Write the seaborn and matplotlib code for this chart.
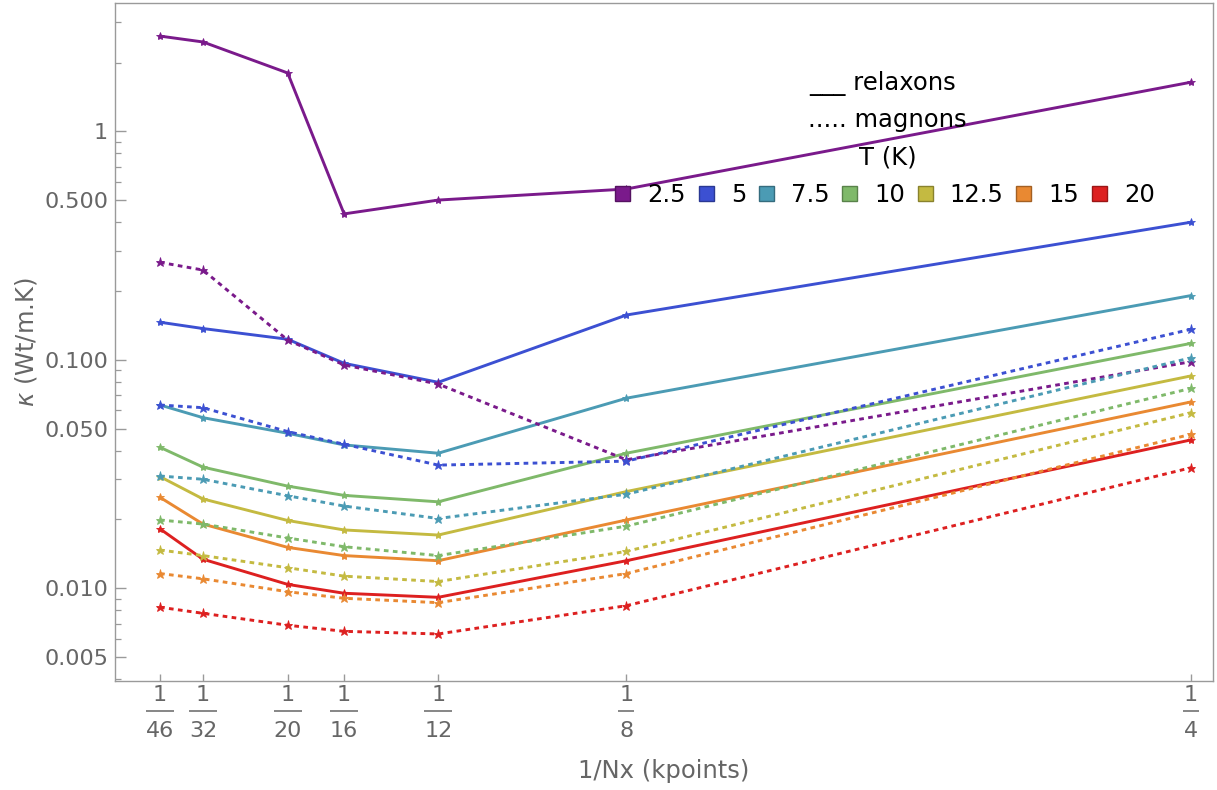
import numpy as np
import pandas as pd
import matplotlib
matplotlib.use("Agg")
import matplotlib.pyplot as plt
import matplotlib.transforms as mtransforms
from matplotlib.patches import Patch
from matplotlib.ticker import FixedLocator, FixedFormatter, LogLocator, NullFormatter
import seaborn as sns

# ---------------- data ----------------
nx = [46, 32, 20, 16, 12, 8, 4]
temperatures = ["2.5", "5", "7.5", "10", "12.5", "15", "20"]

relaxons_2p5 = [2.61, 2.46, 1.80, 0.435, 0.500, 0.559, 1.64]
relaxons_5 = [0.146, 0.137, 0.123, 0.0965, 0.0797, 0.157, 0.400]
relaxons_7p5 = [0.0634, 0.0558, 0.0477, 0.0424, 0.0390, 0.0679, 0.191]
relaxons_10 = [0.0414, 0.0339, 0.0280, 0.0255, 0.0239, 0.0390, 0.118]
relaxons_12p5 = [0.0308, 0.0246, 0.0198, 0.0180, 0.0171, 0.0265, 0.0850]
relaxons_15 = [0.0250, 0.0191, 0.0151, 0.0139, 0.0132, 0.0199, 0.0654]
relaxons_20 = [0.0182, 0.0134, 0.0104, 0.00951, 0.00913, 0.0132, 0.0446]

magnons_2p5 = [0.267, 0.247, 0.122, 0.0949, 0.0783, 0.0365, 0.0981]
magnons_5 = [0.0634, 0.0617, 0.0485, 0.0427, 0.0346, 0.0360, 0.136]
magnons_7p5 = [0.0310, 0.0300, 0.0254, 0.0229, 0.0202, 0.0258, 0.102]
magnons_10 = [0.0199, 0.0191, 0.0166, 0.0152, 0.0139, 0.0187, 0.0750]
magnons_12p5 = [0.0147, 0.0139, 0.0123, 0.0113, 0.0107, 0.0145, 0.0587]
magnons_15 = [0.0116, 0.0110, 0.00966, 0.00904, 0.00865, 0.0116, 0.0472]
magnons_20 = [0.00826, 0.00777, 0.00689, 0.00648, 0.00631, 0.00839, 0.0337]

y_major = [0.005, 0.01, 0.05, 0.1, 0.5, 1]
y_major_labels = ["0.005", "0.010", "0.050", "0.100", "0.500", "1"]

colors = ["#7a1a8b", "#3c50d2", "#4b9bb4", "#7fb96a", "#c4ba41", "#e98932", "#dd2020"]

relaxons = [relaxons_2p5, relaxons_5, relaxons_7p5, relaxons_10,
            relaxons_12p5, relaxons_15, relaxons_20]
magnons = [magnons_2p5, magnons_5, magnons_7p5, magnons_10,
           magnons_12p5, magnons_15, magnons_20]

rows = []
for T, rv, mv in zip(temperatures, relaxons, magnons):
    for n, r, m in zip(nx, rv, mv):
        rows.append({"x": 1.0 / n, "kappa": r, "T": T, "kind": "relaxons"})
        rows.append({"x": 1.0 / n, "kappa": m, "T": T, "kind": "magnons"})
df = pd.DataFrame(rows)
palette = dict(zip(temperatures, colors))

# ---------------- style ----------------
sns.set_theme(style="white")
plt.rcParams["font.family"] = ["DejaVu Sans"]
plt.rcParams["mathtext.fontset"] = "dejavusans"

W, H = 1217, 790
fig = plt.figure(figsize=(W / 100, H / 100), dpi=100)
ax_l, ax_r, ax_t, ax_b = 115, 1213, 3, 681
ax = fig.add_axes([ax_l / W, (H - ax_b) / H, (ax_r - ax_l) / W, (ax_b - ax_t) / H])

lw = 2.1
sns.lineplot(data=df[df.kind == "relaxons"], x="x", y="kappa", hue="T",
             hue_order=temperatures, palette=palette, marker="*",
             markersize=6, linewidth=lw, legend=False, ax=ax, estimator=None)
sns.lineplot(data=df[df.kind == "magnons"], x="x", y="kappa", hue="T",
             hue_order=temperatures, palette=palette, marker="*",
             markersize=6.5, linewidth=lw, legend=False, ax=ax, estimator=None,
             linestyle=(0, (1.6, 1.5)))
for ln in ax.lines:
    ln.set_markeredgecolor(ln.get_color())
    ln.set_markerfacecolor(ln.get_color())
    ln.set_markeredgewidth(0.6)
    ln.set_dash_capstyle("butt")

ax.set_yscale("log")
xmin, xmax = 0.011776, 0.25487
ax.set_xlim(xmin, xmax)
ax.set_ylim(0.003928, 3.643)

gray_txt = "#666666"
spine_c = "#9a9a9a"
for s in ax.spines.values():
    s.set_color(spine_c)
    s.set_linewidth(1.0)

ax.yaxis.set_major_locator(FixedLocator(y_major))
ax.yaxis.set_major_formatter(FixedFormatter(y_major_labels))
ax.yaxis.set_minor_locator(LogLocator(base=10, subs=np.arange(2, 10)))
ax.yaxis.set_minor_formatter(NullFormatter())
ax.tick_params(axis="y", which="major", direction="in", length=8, width=1.0,
               color=spine_c, labelcolor=gray_txt, labelsize=16, pad=5,
               left=True, right=False)
ax.tick_params(axis="y", which="minor", direction="in", length=4, width=0.9,
               color=spine_c, left=True, right=False)

xt = [1.0 / n for n in nx]
ax.set_xticks(xt)
ax.set_xticklabels([""] * len(xt))
ax.tick_params(axis="x", which="major", direction="in", length=5, width=1.0,
               color=spine_c, bottom=True, top=False)
ax.tick_params(axis="x", which="minor", bottom=False, top=False)

# fraction tick labels
blend = mtransforms.blended_transform_factory(ax.transData, ax.transAxes)
ax_h = ax_b - ax_t
px_per_data = (ax_r - ax_l) / (xmax - xmin)
for n, xv in zip(nx, xt):
    ax.text(xv, (ax_b - 695) / ax_h, "1", transform=blend, ha="center",
            va="center", fontsize=16, color=gray_txt, clip_on=False)
    ax.text(xv, (ax_b - 731) / ax_h, str(n), transform=blend, ha="center",
            va="center", fontsize=16, color=gray_txt, clip_on=False)
    hw = (14.0 if n >= 10 else 8.0) / px_per_data
    ax.plot([xv - hw, xv + hw], [(ax_b - 711) / ax_h] * 2, transform=blend,
            color=gray_txt, lw=1.1, clip_on=False, solid_capstyle="butt")

ax.set_xlabel("1/Nx (kpoints)", fontsize=17.5, color=gray_txt)
ax.xaxis.set_label_coords(0.5, (ax_b - 771) / ax_h)
ax.xaxis.label.set_va("center")
ax.set_ylabel(r"$\kappa$ (Wt/m.K)", fontsize=17.5, color=gray_txt)
ax.yaxis.set_label_coords((26 - ax_l) / (ax_r - ax_l), 0.5)
ax.yaxis.label.set_va("center")

# legend
cx = (886 - ax_l) / (ax_r - ax_l)
for txt, yp, xo in [("___ relaxons", 83, 883), ("..... magnons", 120, 887), ("T (K)", 158, 888)]:
    ax.text((xo - ax_l) / (ax_r - ax_l), (ax_b - yp) / ax_h, txt, transform=ax.transAxes,
            ha="center", va="center", fontsize=17.5, color="black")

def darker(c, f=0.7):
    r, g, b = matplotlib.colors.to_rgb(c)
    return (r * f, g * f, b * f)

handles = [Patch(facecolor=c, edgecolor=darker(c), linewidth=1.0) for c in colors]
leg = ax.legend(handles, temperatures, ncol=7, loc="center",
                bbox_to_anchor=((885 - ax_l) / (ax_r - ax_l), (ax_b - 195) / ax_h),
                frameon=False, fontsize=17.5, handlelength=0.62, handleheight=0.62,
                handletextpad=0.7, columnspacing=0.52, borderpad=0.0)
for t in leg.get_texts():
    t.set_color("black")

fig.savefig("out.png", dpi=100)
